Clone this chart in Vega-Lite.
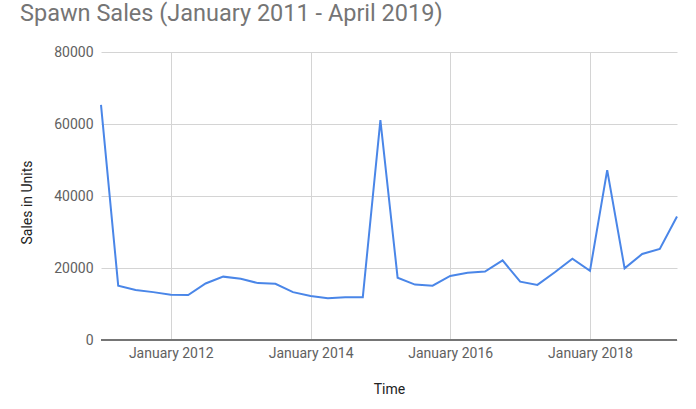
{
  "$schema": "https://vega.github.io/schema/vega-lite/v6.json",
  "autosize": "none",
  "width": 576,
  "height": 288,
  "padding": {"left": 101, "top": 52, "right": 19, "bottom": 69},
  "background": "white",
  "title": {
    "text": "Spawn Sales (January 2011 - April 2019)",
    "anchor": "start",
    "frame": "group",
    "dx": -81,
    "offset": 20,
    "font": "Roboto",
    "fontSize": 23.5,
    "fontWeight": "normal",
    "color": "#757575"
  },
  "config": {
    "view": {"stroke": null},
    "font": "Roboto",
    "axis": {
      "labelFont": "Roboto",
      "titleFont": "Roboto",
      "labelFontSize": 14,
      "titleFontSize": 14,
      "labelColor": "#616161",
      "titleColor": "#222222",
      "titleFontWeight": "normal",
      "gridColor": "#d4d4d4",
      "gridWidth": 1,
      "ticks": false
    }
  },
  "data": {
    "values": [
      {"date": "2011-01-01", "sales": 65300},
      {"date": "2011-04-01", "sales": 15100},
      {"date": "2011-07-01", "sales": 13900},
      {"date": "2011-10-01", "sales": 13300},
      {"date": "2012-01-01", "sales": 12600},
      {"date": "2012-04-01", "sales": 12500},
      {"date": "2012-07-01", "sales": 15700},
      {"date": "2012-10-01", "sales": 17600},
      {"date": "2013-01-01", "sales": 17000},
      {"date": "2013-04-01", "sales": 15800},
      {"date": "2013-07-01", "sales": 15600},
      {"date": "2013-10-01", "sales": 13300},
      {"date": "2014-01-01", "sales": 12200},
      {"date": "2014-04-01", "sales": 11600},
      {"date": "2014-07-01", "sales": 11900},
      {"date": "2014-10-01", "sales": 11900},
      {"date": "2015-01-01", "sales": 61100},
      {"date": "2015-04-01", "sales": 17300},
      {"date": "2015-07-01", "sales": 15400},
      {"date": "2015-10-01", "sales": 15100},
      {"date": "2016-01-01", "sales": 17800},
      {"date": "2016-04-01", "sales": 18700},
      {"date": "2016-07-01", "sales": 19000},
      {"date": "2016-10-01", "sales": 22100},
      {"date": "2017-01-01", "sales": 16200},
      {"date": "2017-04-01", "sales": 15300},
      {"date": "2017-07-01", "sales": 18800},
      {"date": "2017-10-01", "sales": 22600},
      {"date": "2018-01-01", "sales": 19200},
      {"date": "2018-04-01", "sales": 47200},
      {"date": "2018-07-01", "sales": 19900},
      {"date": "2018-10-01", "sales": 23900},
      {"date": "2019-01-01", "sales": 25300},
      {"date": "2019-04-01", "sales": 34300}
    ]
  },
  "layer": [
    {
      "mark": {"type": "line", "color": "#4a86e8", "strokeWidth": 2},
      "encoding": {
        "x": {
          "field": "date",
          "type": "temporal",
          "title": "Time",
          "scale": {"domain": ["2011-01-01", "2019-04-01"], "nice": false},
          "axis": {
            "domain": false,
            "grid": true,
            "format": "%B %Y",
            "values": ["2012-01-01", "2014-01-01", "2016-01-01", "2018-01-01"],
            "labelPadding": 6,
            "titlePadding": 22
          }
        },
        "y": {
          "field": "sales",
          "type": "quantitative",
          "title": "Sales in Units",
          "scale": {"domain": [0, 80000], "nice": false},
          "axis": {
            "domain": false,
            "grid": true,
            "values": [0, 20000, 40000, 60000, 80000],
            "format": "d",
            "labelPadding": 8,
            "titlePadding": 19,
            "titleY": 150
          }
        }
      }
    },
    {
      "mark": {"type": "rule", "color": "#757575", "strokeWidth": 2},
      "encoding": {"y": {"datum": 0, "type": "quantitative"}}
    }
  ]
}
